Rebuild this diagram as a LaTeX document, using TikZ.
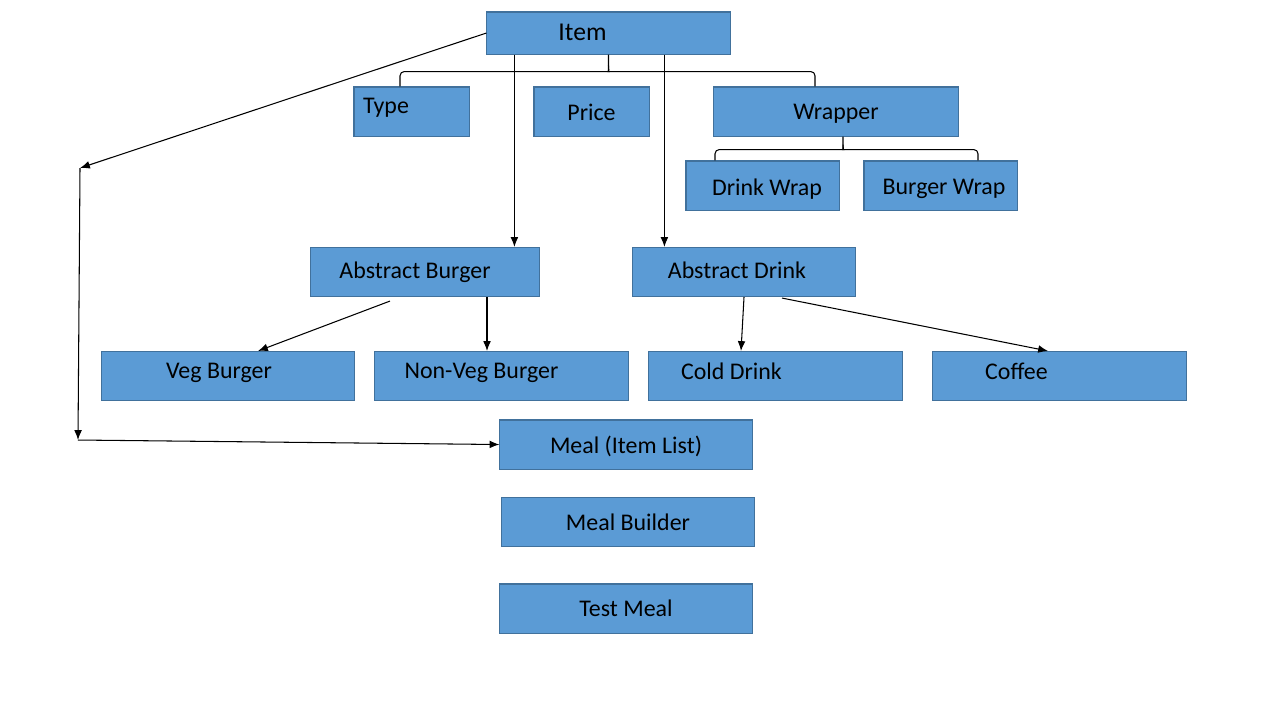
\documentclass[tikz,border=0pt]{standalone}
\usepackage{fontspec}
\setmainfont{Carlito}
\usetikzlibrary{calc,arrows.meta}
\definecolor{boxfill}{HTML}{5B9BD5}
\definecolor{boxline}{HTML}{41719C}
\tikzset{
  box/.style={draw=boxline, fill=boxfill, line width=0.3pt, minimum height=0.49cm, inner sep=0pt},
  arr/.style={-{Latex[length=2.8pt,width=2.2pt]}, line width=0.3pt},
  brace/.style={line width=0.3pt, rounded corners=1.2pt},
}
\begin{document}
\begin{tikzpicture}[x=0.01cm, y=-0.01cm, font=\fontsize{6.8}{8}\selectfont]
\useasboundingbox (0,0) rectangle (1280,720);

% boxes
\node[box, minimum width=2.43cm, minimum height=0.42cm, label={[xshift=-0.26cm, yshift=0.01cm, font=\fontsize{7.3}{9}\selectfont]center:Item}] (item) at (608.5,33) {};
\node[box, minimum width=1.15cm, label={[xshift=-0.255cm, yshift=0.035cm]center:Type}] (type) at (411.5,111.5) {};
\node[box, minimum width=1.15cm, label={[yshift=-0.01cm]center:Price}] (price) at (591.5,111.5) {};
\node[box, minimum width=2.44cm, label={[yshift=-0.02cm]center:Wrapper}] (wrapper) at (836,111.5) {};
\node[box, minimum width=1.53cm, label={[xshift=0.045cm, yshift=-0.035cm]center:Drink Wrap}] (dwrap) at (762.5,185.5) {};
\node[box, minimum width=1.53cm, label={[xshift=0.035cm, yshift=-0.035cm]center:Burger Wrap}] (bwrap) at (940.5,185.5) {};
\node[box, minimum width=2.28cm, label={[xshift=-0.1cm, yshift=0cm]center:Abstract Burger}] (aburger) at (425,272) {};
\node[box, minimum width=2.22cm, label={[xshift=-0.07cm, yshift=0.02cm]center:Abstract Drink}] (adrink) at (744,272) {};
\node[box, minimum width=2.52cm, label={[xshift=-0.09cm, yshift=0.03cm]center:Veg Burger}] (veg) at (228,376) {};
\node[box, minimum width=2.53cm, label={[xshift=-0.2cm, yshift=0.03cm]center:Non-Veg Burger}] (nonveg) at (501.5,376) {};
\node[box, minimum width=2.53cm, label={[xshift=-0.44cm, yshift=0.05cm]center:Cold Drink}] (cold) at (775.5,376) {};
\node[box, minimum width=2.53cm, label={[xshift=-0.43cm, yshift=0.05cm]center:Coffee}] (coffee) at (1059.5,376) {};
\node[box, minimum width=2.52cm, label={[yshift=-0.015cm]center:Meal (Item List)}] (meal) at (626,444.5) {};
\node[box, minimum width=2.52cm, label={center:Meal Builder}] (builder) at (628,522) {};
\node[box, minimum width=2.52cm, label={center:Test Meal}] (test) at (626,608.5) {};

% braces
\draw[brace] ($(type.north)+(-11.5,0)$) |- ($(item.south)+(-4,17)$) .. controls +(3,0) and +(0,5) .. ($(item.south)+(0,11)$) -- (item.south);
\draw[brace] ($(wrapper.north)+(-21,0)$) |- ($(item.south)+(4,17)$) .. controls +(-3,0) and +(0,5) .. ($(item.south)+(0,11)$);
\draw[brace] ($(dwrap.north)+(-47.5,0)$) |- ($(wrapper.south)+(3,13)$) .. controls +(3,0) and +(0,4) .. ($(wrapper.south)+(7,8)$) -- ($(wrapper.south)+(7,0)$);
\draw[brace] ($(bwrap.north)+(37.5,0)$) |- ($(wrapper.south)+(11,13)$) .. controls +(-3,0) and +(0,4) .. ($(wrapper.south)+(7,8)$);

% arrows
\coordinate (bend) at (80,168);
\coordinate (foot) at (78,440);
\draw[arr] (item.west) -- (bend);
\draw[arr] (bend) -- (foot);
\draw[arr] (foot) -- (meal.west);

\draw[arr] ($(item.south west)+(28,0)$) coordinate (p1) -- (p1 |- aburger.north);
\draw[arr] ($(item.south west)+(178,0)$) coordinate (p2) -- (p2 |- adrink.north);

\draw[arr] ($(aburger.south)+(-35,4)$) -- ($(veg.north)+(30,0)$);
\draw[arr] ($(aburger.south)+(62,0)$) coordinate (p3) -- (p3 |- nonveg.north);
\draw[arr] (adrink.south) -- ($(cold.north)+(-34.5,0)$);
\draw[arr] ($(adrink.south)+(38,1)$) -- ($(coffee.north)+(-11.5,0)$);

\end{tikzpicture}
\end{document}
